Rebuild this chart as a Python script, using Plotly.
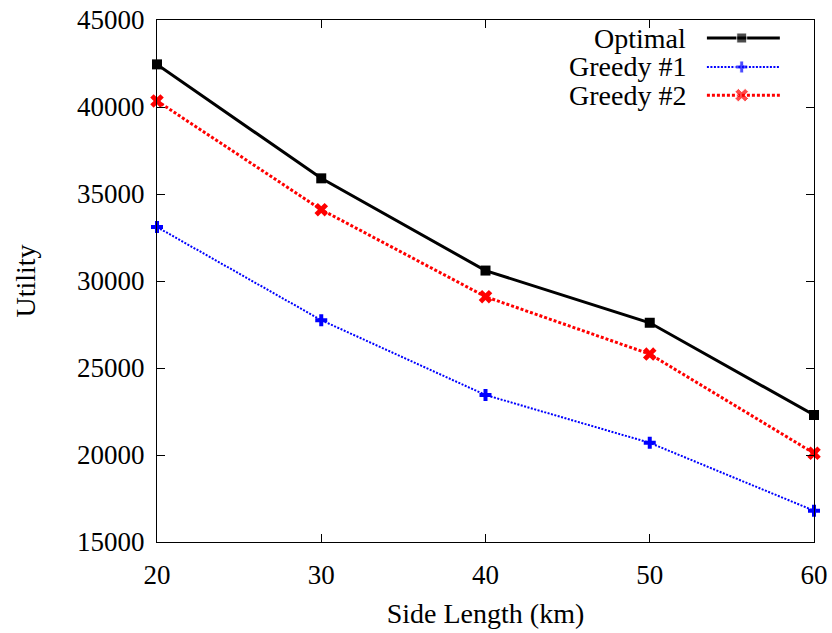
import plotly.graph_objects as go

side_length = [20, 30, 40, 50, 60]
optimal = [42450, 35900, 30600, 27600, 22300]
greedy1 = [33100, 27750, 23450, 20700, 16800]
greedy2 = [40350, 34100, 29100, 25800, 20100]
series_names = ["Optimal", "Greedy #1", "Greedy #2"]

FONT = "Liberation Serif"
FS_TICK = 27
FS_TEXT = 28
styles = [
    dict(color="black", width=3, dash="solid", symbol="square", msize=10),
    dict(color="blue", width=2, dash="2px,1.5px", symbol="cross", msize=10),
    dict(color="red", width=3, dash="3px,2px", symbol="x", msize=12),
]

fig = go.Figure()
for name, ys, st in zip(series_names, [optimal, greedy1, greedy2], styles):
    fig.add_trace(go.Scatter(
        x=side_length, y=ys, mode="lines+markers", name=name,
        line=dict(color=st["color"], width=st["width"], dash=st["dash"]),
        marker=dict(symbol=st["symbol"], size=st["msize"], color=st["color"]),
        showlegend=False, cliponaxis=False,
    ))

# custom gnuplot-style legend: right-aligned text, sample to the right
leg_y = [0.9655, 0.910, 0.856]
for name, st, ly in zip(series_names, styles, leg_y):
    fig.add_trace(go.Scatter(
        x=[0.837, 0.890, 0.948], y=[ly, ly, ly], mode="lines+markers",
        xaxis="x2", yaxis="y2", showlegend=False, hoverinfo="skip",
        line=dict(color=st["color"], width=st["width"], dash=st["dash"]),
        marker=dict(symbol=st["symbol"], size=[0, st["msize"], 0], color=st["color"]),
    ))
    fig.add_annotation(x=0.808, y=ly, xref="paper", yref="paper", text=name,
                       showarrow=False, xanchor="right", yanchor="middle",
                       font=dict(family=FONT, size=FS_TEXT, color="black"))

axis_common = dict(
    showline=True, linecolor="black", linewidth=1, mirror="ticks",
    ticks="inside", ticklen=8, tickcolor="black", showgrid=False, zeroline=False,
    tickfont=dict(family=FONT, size=FS_TICK, color="black"), automargin=False,
)
fig.update_layout(
    width=832, height=633,
    margin=dict(l=157, r=18, t=20, b=91),
    plot_bgcolor="white", paper_bgcolor="white",
    font=dict(family=FONT, size=FS_TEXT, color="black"),
    xaxis=dict(range=[20, 60], tickvals=side_length, ticklabelstandoff=9,
               title=dict(text="Side Length (km)", font=dict(family=FONT, size=FS_TEXT, color="black"), standoff=13),
               **axis_common),
    yaxis=dict(range=[15000, 45000], dtick=5000, tickformat="d", ticklabelstandoff=6,
               title=dict(text="Utility", font=dict(family=FONT, size=FS_TEXT, color="black"), standoff=33),
               **axis_common),
    xaxis2=dict(domain=[0, 1], range=[0, 1], overlaying="x", visible=False, anchor="y2"),
    yaxis2=dict(domain=[0, 1], range=[0, 1], overlaying="y", visible=False, anchor="x2"),
)
fig.write_html("out.html")
